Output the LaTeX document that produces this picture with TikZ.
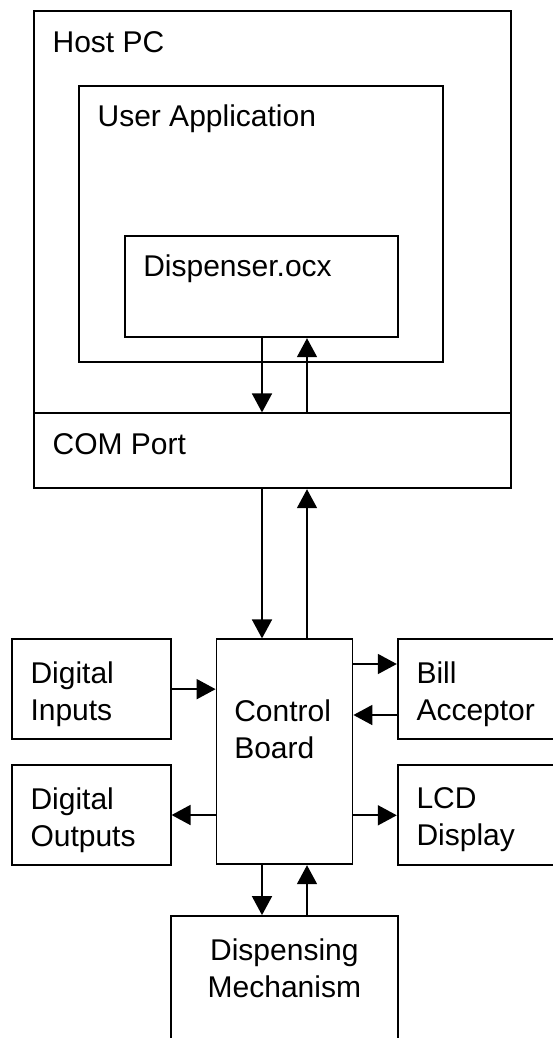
\documentclass[tikz,border=0pt]{standalone}
\usepackage{fontspec}
\setmainfont{Liberation Sans}
\usetikzlibrary{arrows.meta,calc,positioning}

\tikzset{
  block/.style={draw, rectangle, inner sep=0pt, line width=1.8pt},
  lbl/.style={inner sep=0pt, align=left, font=\fontsize{30}{37}\selectfont},
  flow/.style={line width=1.8pt, -{Triangle[length=19pt,width=20pt]}}
}

\begin{document}
\begin{tikzpicture}[x=1pt, y=-1pt]
  \useasboundingbox (0,0) rectangle (552,1038);

  % host side
  \node[block, minimum width=476.7pt, minimum height=402.3pt] (host) at (272.65,212.15) {};
  \node[block, minimum width=476.7pt, minimum height=75pt] (com) at (272.65,450.8) {};
  \node[block, minimum width=363.7pt, minimum height=276.3pt] (user) at (261.15,224.15) {};
  \node[block, minimum width=273pt, minimum height=101.3pt] (ocx) at (261.5,286.65) {};

  \node[lbl, anchor=base west] (hostlbl) at ($(host.north west)+(19,42)$) {Host PC};
  \node[lbl, anchor=base west] (userlbl) at ($(user.north west)+(19,41)$) {User Application};
  \node[lbl, anchor=base west] (ocxlbl) at ($(ocx.north west)+(19,41)$) {Dispenser.ocx};
  \node[lbl, anchor=base west] (comlbl) at ($(com.north west)+(19,42.5)$) {COM Port};

  % board side
  \node[block, minimum width=136pt, minimum height=225pt] (cb) at (284.5,751.8) {};
  \node[block, minimum width=159pt, minimum height=100.3pt] (din) at (91.2,689.15) {};
  \node[block, minimum width=159pt, minimum height=100pt] (dout) at (91.2,815) {};
  \node[block, minimum width=162.3pt, minimum height=100pt] (bill) at (478.85,689) {};
  \node[block, minimum width=162.3pt, minimum height=100pt] (lcd) at (478.85,815.3) {};
  \node[block, minimum width=226.7pt, minimum height=144pt] (disp) at (284.35,988) {};

  \node[lbl, anchor=north west] (cblbl) at ($(cb.north west)+(18.5,61)$) {Control\\Board};
  \node[lbl, anchor=north west] (dinlbl) at ($(din.north west)+(19.5,23)$) {Digital\\Inputs};
  \node[lbl, anchor=north west] (doutlbl) at ($(dout.north west)+(19.5,23)$) {Digital\\Outputs};
  \node[lbl, anchor=north west] (billlbl) at ($(bill.north west)+(19.5,23)$) {Bill\\Acceptor};
  \node[lbl, anchor=north west] (lcdlbl) at ($(lcd.north west)+(19.5,23)$) {LCD\\Display};
  \node[lbl, align=center, anchor=north] (displbl) at ($(disp.north)+(0,23)$) {Dispensing\\Mechanism};

  \coordinate (dn) at (262,0);
  \coordinate (up) at (307,0);

  \draw[flow] (ocx.south -| dn) -- (com.north -| dn);
  \draw[flow] (com.north -| up) -- (ocx.south -| up);
  \draw[flow] (com.south -| dn) -- (cb.north -| dn);
  \draw[flow] (cb.north -| up) -- (com.south -| up);
  \draw[flow] (cb.south -| dn) -- (disp.north -| dn);
  \draw[flow] (disp.north -| up) -- (cb.south -| up);

  \draw[flow] (din.east) -- (din.east -| cb.west);
  \draw[flow] (dout.east -| cb.west) -- (dout.east);
  \draw[flow] ([yshift=25pt]bill.west -| cb.east) -- ([yshift=25pt]bill.west);
  \draw[flow] ([yshift=-26pt]bill.west) -- ([yshift=-26pt]bill.west -| cb.east);
  \draw[flow] (lcd.west -| cb.east) -- (lcd.west);
\end{tikzpicture}
\end{document}
